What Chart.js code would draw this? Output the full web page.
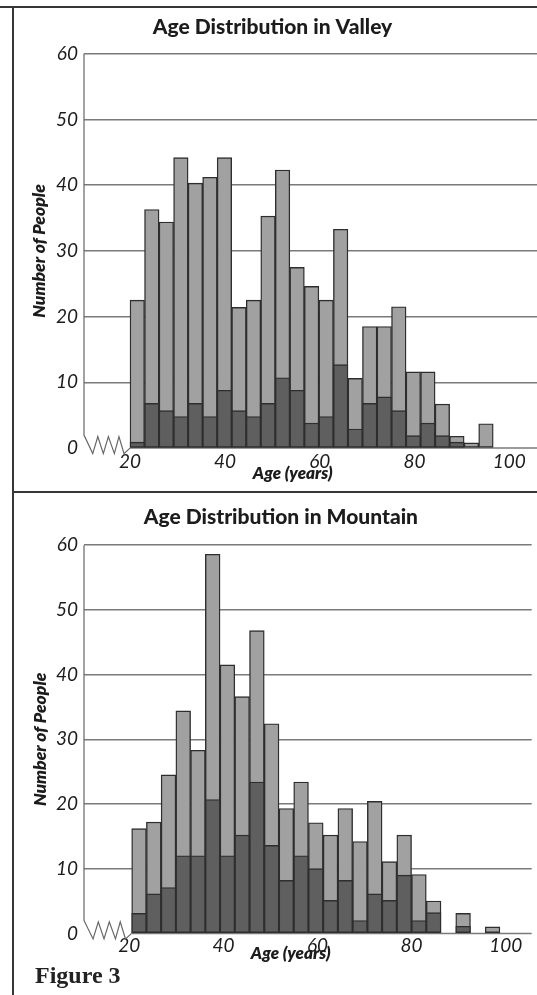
<!DOCTYPE html>
<html><head><meta charset="utf-8">
<script src="https://cdn.jsdelivr.net/npm/chart.js@4.4.1/dist/chart.umd.min.js"></script>
<style>
html,body{margin:0;padding:0;background:#fff;width:537px;height:995px;overflow:hidden;}
#wrap{position:relative;width:537px;height:995px;}
.ln{position:absolute;background:#363636;}
canvas{position:absolute;}
#fig{position:absolute;left:35px;top:963px;font:bold 24px "Liberation Serif",serif;line-height:24px;color:#222;}
</style></head><body>
<div id="wrap">
<div class="ln" style="left:0;top:6px;width:537px;height:2px"></div>
<div class="ln" style="left:12px;top:6px;width:2px;height:989px"></div>
<div class="ln" style="left:12px;top:491px;width:525px;height:2px"></div>
<canvas id="c1" width="529" height="483" style="left:8px;top:8px"></canvas>
<canvas id="c2" width="507" height="475" style="left:30px;top:492px"></canvas>
<div id="fig">Figure 3</div>
</div>
<script>
// ---- data ----
const binStarts = [20,23,26,29,32,35,38,41,44,47,50,53,56,59,62,65,68,71,74,77,80,83,86,89,92];
const ageTicks = [20,40,60,80,100];
const yTicks = [0,10,20,30,40,50,60];

const valleyTotal = [22.5,36.3,34.4,44.2,40.3,41.2,44.2,21.4,22.5,35.3,42.3,27.5,24.6,22.5,33.3,10.6,18.5,18.5,21.5,11.6,11.6,6.7,1.8,0.8,3.7];
const valleyDark  = [0.9,6.8,5.7,4.8,6.8,4.8,8.8,5.7,4.8,6.8,10.7,8.8,3.8,4.8,12.7,2.9,6.8,7.8,5.7,1.9,3.8,1.9,0.9,0,0];

const mountainTotal = [16.2,17.2,24.5,34.4,28.3,58.6,41.5,36.6,46.8,32.4,19.3,23.4,17.1,15.2,19.3,14.2,20.4,11.1,15.2,9.1,5.0,0,3.1,0,1.0];
const mountainDark  = [3.1,6.1,7.1,12.0,12.0,20.7,12.0,15.2,23.4,13.6,8.2,12.0,10.0,5.1,8.2,2.0,6.1,5.1,9.0,2.0,3.2,0,1.1,0,0];

const LIGHT = '#a1a1a1', DARK = '#5f5f5f', EDGE = '#2e2e2e', GRID = '#7a7a7a', TXT = '#1c1c1c';

const axisBreak = {
  id: 'axisBreak',
  beforeDatasetsDraw(chart) {
    const {ctx, chartArea: a, scales} = chart;
    const B = scales.y.getPixelForValue(0);
    const S = scales.x.getPixelForValue(binStarts[0]);
    const L = a.left;
    ctx.save();
    ctx.strokeStyle = GRID; ctx.lineWidth = 1.5;
    ctx.beginPath(); ctx.moveTo(S, B); ctx.lineTo(a.right, B); ctx.stroke();
    ctx.strokeStyle = '#666'; ctx.lineWidth = 1.2;
    ctx.beginPath(); ctx.moveTo(L, a.top); ctx.lineTo(L, B - 13);
    const fx = [0.19,0.30,0.42,0.53,0.66,0.76,0.87,1];
    const dy = [5.5,-11.5,5.5,-11.5,5.5,-11.5,5.5,0];
    fx.forEach((f,i) => ctx.lineTo(L + (S - L) * f, B + dy[i]));
    ctx.stroke();
    ctx.restore();
  },
  afterDraw(chart, args, opts) {
    const {ctx, scales} = chart;
    const B = scales.y.getPixelForValue(0);
    ctx.save();
    ctx.font = 'italic 800 17px Lato';
    ctx.fillStyle = TXT; ctx.textAlign = 'center'; ctx.textBaseline = 'alphabetic';
    ctx.fillText(opts.text, scales.xAge.getPixelForValue(opts.at), B + opts.dy);
    ctx.restore();
  }
};

function makeChart(id, title, total, dark, g) {
  const pts = arr => binStarts.map((s, i) => ({x: s + 1.5, y: arr[i]}));
  return new Chart(document.getElementById(id), {
    type: 'bar',
    data: {
      datasets: [
        {data: pts(dark), backgroundColor: DARK, borderColor: EDGE, borderWidth: 1.4, borderSkipped: false, grouped: false, barPercentage: 1, categoryPercentage: 1},
        {data: pts(total), backgroundColor: LIGHT, borderColor: EDGE, borderWidth: 1.4, borderSkipped: false, grouped: false, barPercentage: 1, categoryPercentage: 1}
      ]
    },
    plugins: [axisBreak],
    options: {
      responsive: false, animation: false,
      layout: {padding: {left: 0, right: g.padR, top: 0, bottom: g.padB}},
      plugins: {
        legend: {display: false}, tooltip: {enabled: false},
        title: {display: true, text: title, color: TXT,
          font: {family: 'Lato', size: 21, weight: 900, lineHeight: 1.2},
          padding: {top: g.tTop, bottom: g.tBot}},
        axisBreak: {text: 'Age (years)', at: 54.3, dy: g.xtDy}
      },
      scales: {
        x: {type: 'linear', display: false, offset: false, min: g.bMin, max: g.bMax},
        xAge: {type: 'linear', position: 'bottom', offset: false, min: g.aMin, max: g.aMax,
          grid: {display: false, drawTicks: false, offset: false}, border: {display: false},
          afterBuildTicks: s => { s.ticks = ageTicks.map(v => ({value: v})); },
          ticks: {color: TXT, padding: g.xPad, font: {family: 'Lato', size: 19, style: 'italic', lineHeight: 1.2}}},
        y: {min: 0, max: 60,
          afterBuildTicks: s => { s.ticks = yTicks.map(v => ({value: v})); },
          afterFit: s => { s.width = g.yW; },
          grid: {color: c => c.tick && c.tick.value === 0 ? 'rgba(0,0,0,0)' : GRID, lineWidth: 1.5, drawTicks: false},
          border: {display: false},
          ticks: {color: TXT, padding: 6, font: {family: 'Lato', size: 19, style: 'italic', lineHeight: 1.2}},
          title: {display: true, text: 'Number of People', color: TXT,
            font: {family: 'Lato', size: 17.5, weight: 800, style: 'italic', lineHeight: 1.2},
            padding: {top: g.ytPad, bottom: 0}}}
      }
    }
  });
}

makeChart('c1', 'Age Distribution in Valley', valleyTotal, valleyDark,
  {padR: 0, padB: 16.1, tTop: 6.4, tBot: 14.1, bMin: 10.5, bMax: 104.04, aMin: 10.27, aMax: 105.84, xPad: 2, yW: 76, ytPad: 20.5, xtDy: 31});
makeChart('c2', 'Age Distribution in Mountain', mountainTotal, mountainDark,
  {padR: 5.3, padB: 8.8, tTop: 12.4, tBot: 15.6, bMin: 10.29, bMax: 101.47, aMin: 10.37, aMax: 105.53, xPad: 1, yW: 54, ytPad: 0, xtDy: 26});
</script>
</body></html>
